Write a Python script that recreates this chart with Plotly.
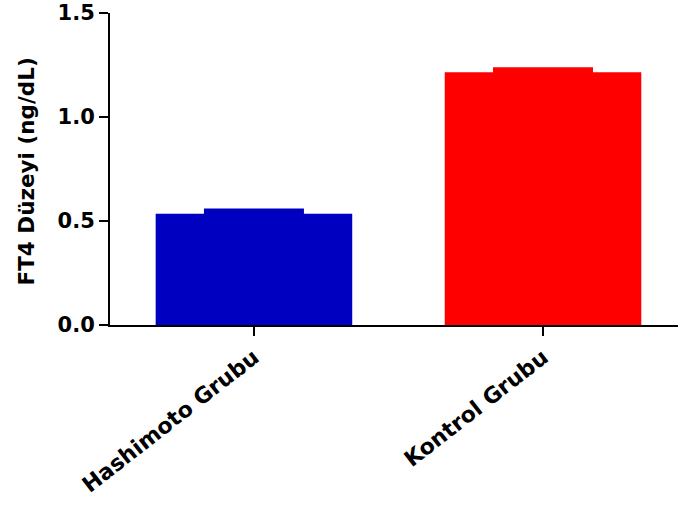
import plotly.graph_objects as go

# Group labels, means and SEM of FT4 levels
groups = ["Hashimoto Grubu", "Kontrol Grubu"]
means = [0.535, 1.215]
sems = [0.015, 0.015]
colors = ["#0000C0", "#FF0000"]

y_ticks = [0.0, 0.5, 1.0, 1.5]
y_ticktext = ["0.0", "0.5", "1.0", "1.5"]

FONT = "DejaVu Sans"

fig = go.Figure()
for i, (g, m, s, c) in enumerate(zip(groups, means, sems, colors)):
    fig.add_trace(go.Bar(
        x=[i], y=[m],
        width=0.68,
        marker=dict(color=c, line=dict(width=0)),
        error_y=dict(type="data", array=[s], arrayminus=[0], symmetric=False,
                     color=c, thickness=4, width=50),
        showlegend=False,
        name=g,
    ))

fig.update_layout(
    width=678, height=508,
    margin=dict(l=110, r=0, t=13, b=183),
    plot_bgcolor="white", paper_bgcolor="white",
    font=dict(family=FONT, size=21, color="black", weight="bold"),
    xaxis=dict(
        range=[-0.498, 1.467],
        tickvals=[0, 1], ticktext=groups,
        tickangle=-38,
        showline=True, linecolor="black", linewidth=2,
        ticks="outside", ticklen=9, tickwidth=2, tickcolor="black",
        showgrid=False, zeroline=False,
        tickfont=dict(family=FONT, size=22, color="black", weight="bold"),
    ),
    yaxis=dict(
        range=[0, 1.5],
        tickvals=y_ticks, ticktext=y_ticktext,
        showline=True, linecolor="black", linewidth=2,
        ticks="outside", ticklen=9, tickwidth=2, tickcolor="black",
        showgrid=False, zeroline=False,
        tickfont=dict(family=FONT, size=21, color="black", weight="bold"),
    ),
    annotations=[dict(
        text="FT4 Düzeyi (ng/dL)",
        xref="paper", yref="paper",
        x=(26 - 110) / 568, y=0.492,
        xanchor="center", yanchor="middle",
        textangle=-90, showarrow=False,
        font=dict(family=FONT, size=21.5, color="black", weight="bold"),
    )],
)

fig.write_html("out.html")
